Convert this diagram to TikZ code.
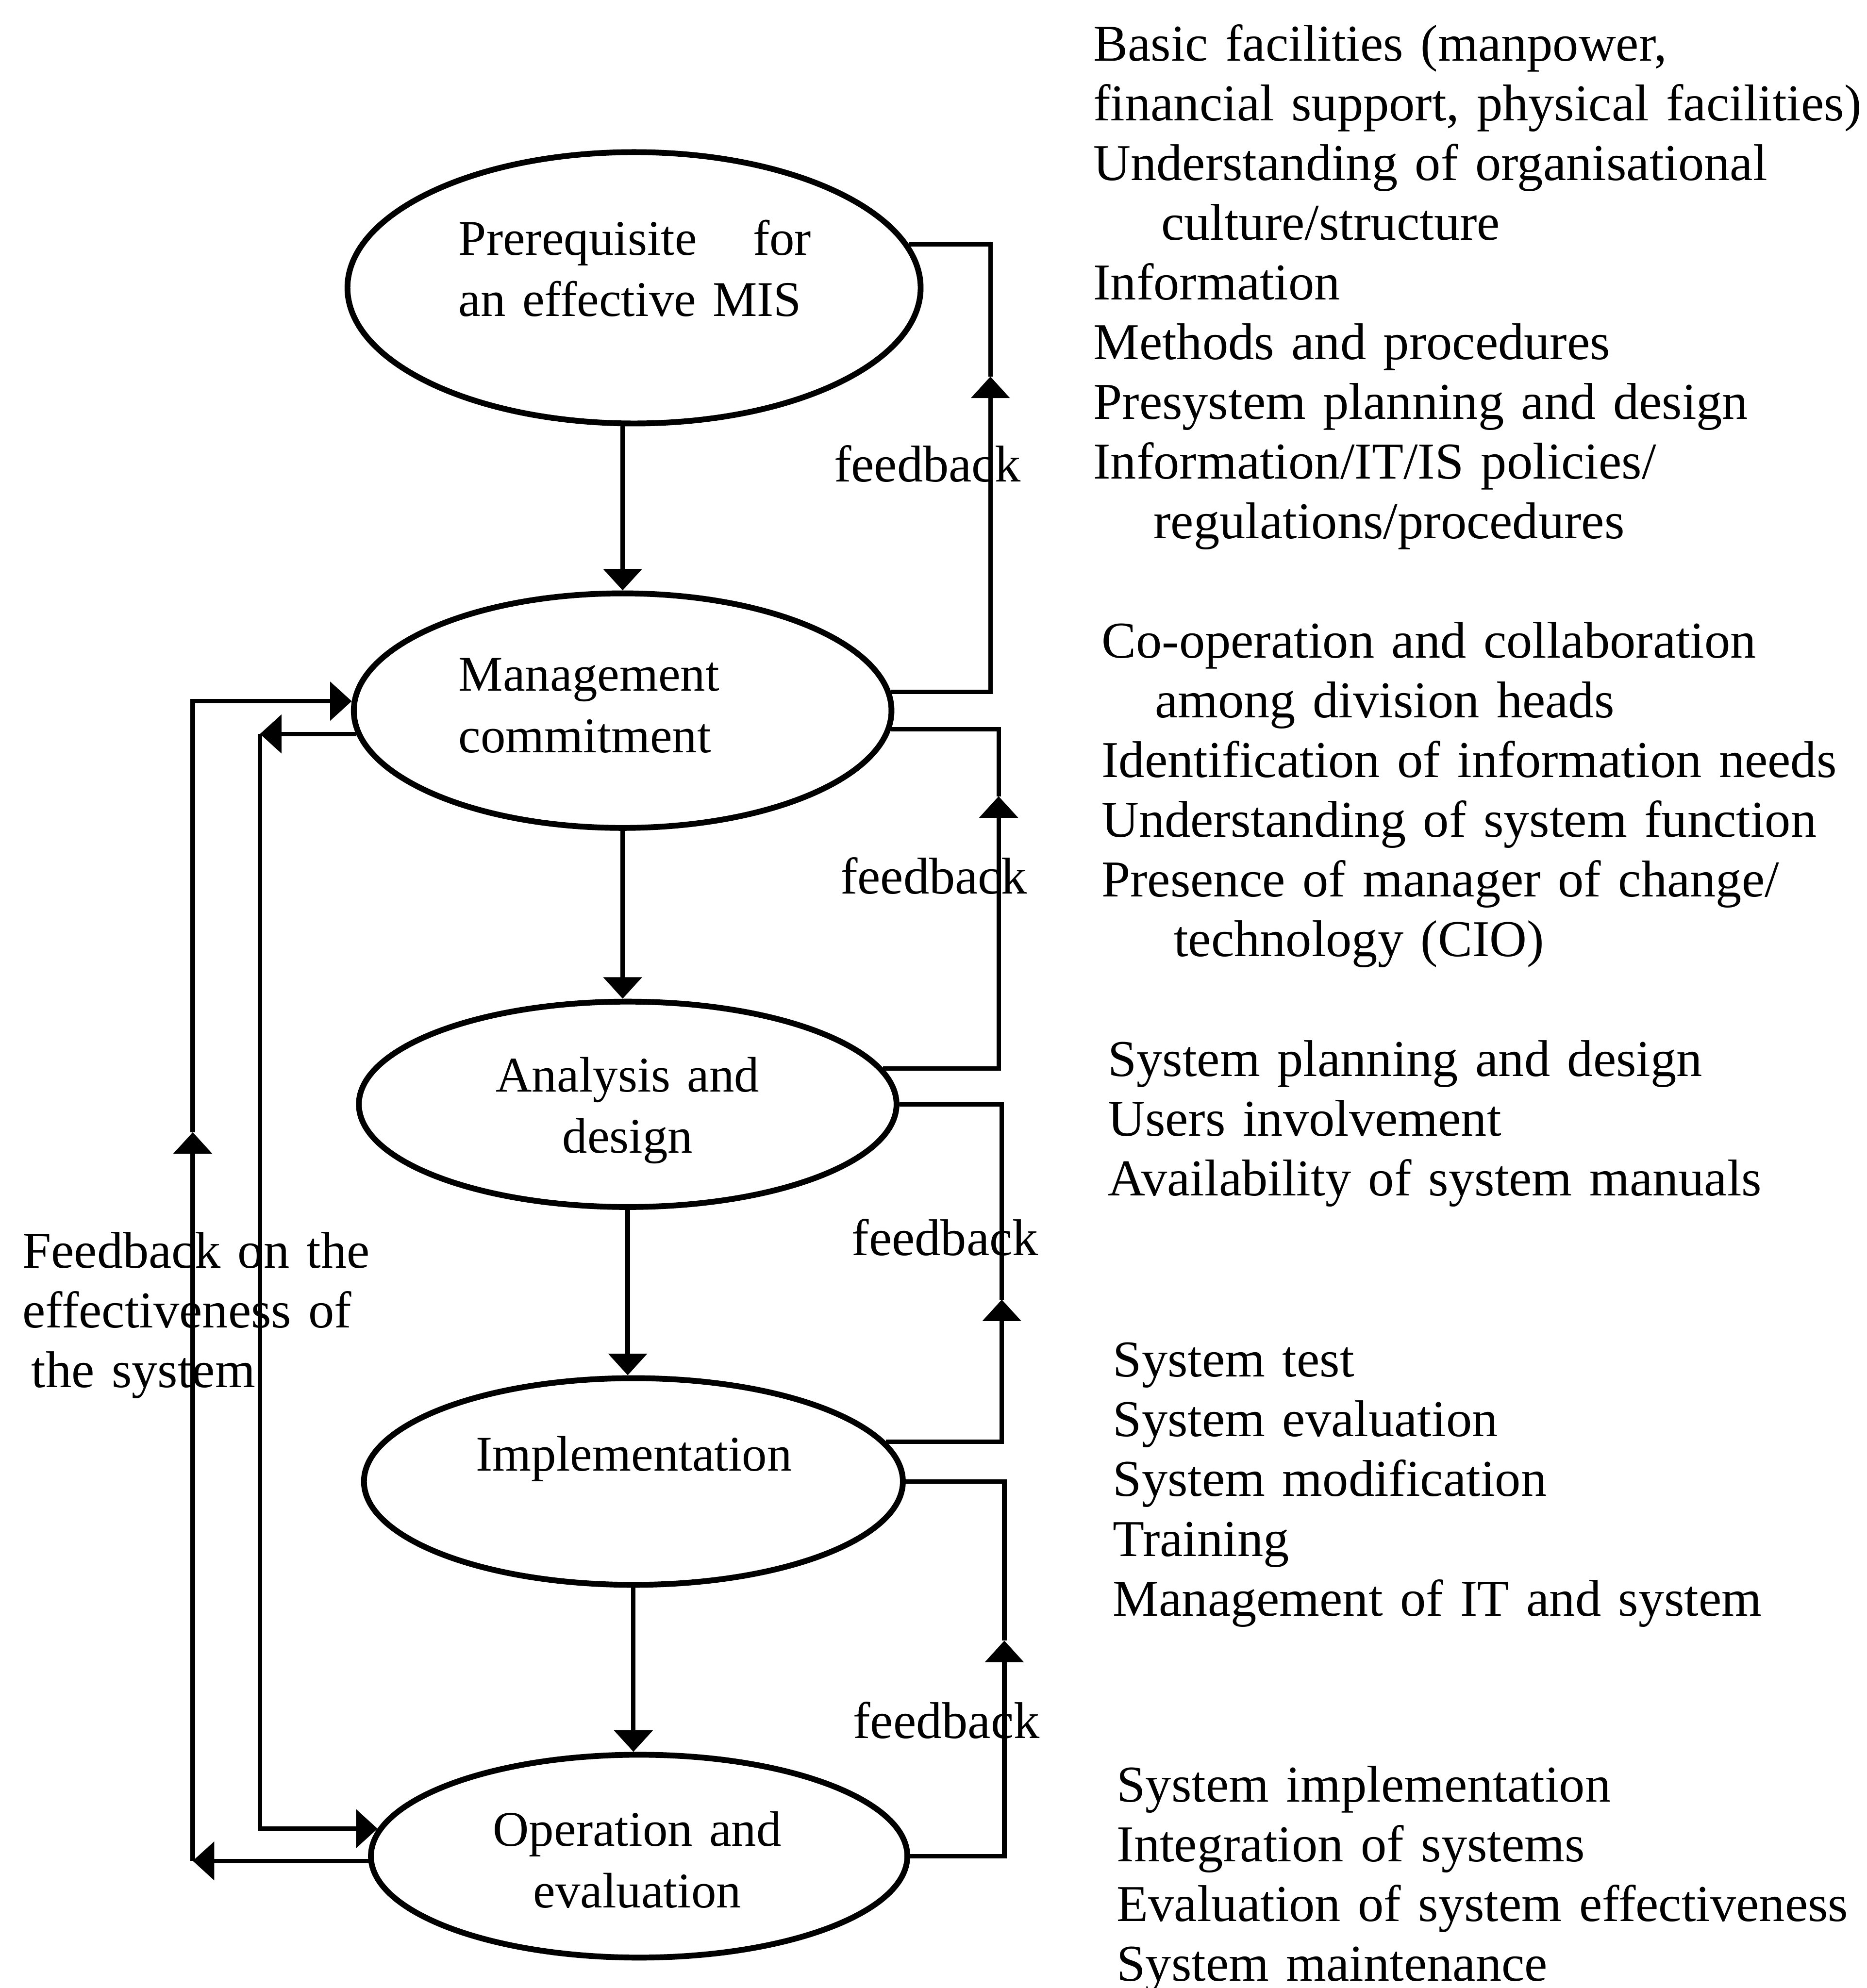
\documentclass[tikz,border=0pt]{standalone}
\usepackage{fontspec}
\setmainfont{Liberation Serif}
\usetikzlibrary{calc}
\usetikzlibrary{arrows.meta}
\usetikzlibrary{shapes.geometric}

\begin{document}
\begin{tikzpicture}[
  stage/.style={draw,ellipse,line width=1.3pt,inner sep=0pt},
  conn/.style={line width=1pt},
  arr/.style={conn,-{Triangle[length=1.7mm,width=3mm]}},
  txt/.style={inner sep=0pt,font=\fontsize{11.6}{13.4}\selectfont},
  lst/.style={txt,anchor=base west,text width=7.5cm,align=left},
  intxt/.style={txt,font=\fontsize{11.2}{13.8}\selectfont,anchor=base,text width=2.8cm,align=center}
]
\useasboundingbox (0,0) rectangle (14.72,-15.68);

% stages
\node[stage,minimum width=4.52cm,minimum height=2.14cm] (pre) at (5.00,-2.27) {};
\node[stage,minimum width=4.24cm,minimum height=1.85cm] (mgmt) at (4.91,-5.605) {};
\node[stage,minimum width=4.24cm,minimum height=1.62cm] (anl) at (4.95,-8.71) {};
\node[stage,minimum width=4.25cm,minimum height=1.63cm] (impl) at (4.995,-11.685) {};
\node[stage,minimum width=4.23cm,minimum height=1.60cm] (oper) at (5.04,-14.64) {};

\node[intxt,anchor=base west,text width=2.78cm,align=left] (pretxt) at (3.61,-2.01) {Prerequisite\hfill for\\an effective MIS};
\node[intxt,anchor=base west,text width=2.6cm,align=left] (mgmttxt) at (3.61,-5.45) {Management\\commitment};
\node[intxt] (anltxt) at (4.95,-8.61) {Analysis and\\design};
\node[intxt] (impltxt) at (5.00,-11.60) {Implementation};
\node[intxt] (opertxt) at (5.025,-14.56) {Operation and\\evaluation};

% downward flow
\draw[arr] (pre.south -| mgmt.north) -- (mgmt.north);
\draw[arr] (mgmt.south) -- (mgmt.south |- anl.north);
\draw[arr] (anl.south) -- (anl.south |- impl.north);
\draw[arr] (impl.south) -- (impl.south |- oper.north);

% feedback loops on the right
\coordinate (r1) at (7.81,-2.97);
\coordinate (r2) at (7.875,-6.28);
\coordinate (r3) at (7.90,-10.25);
\coordinate (r4) at (7.92,-12.94);
\draw[arr] (mgmt.4) -| (r1);
\draw[conn] (r1) |- (pre.9);
\draw[arr] (anl.8) -| (r2);
\draw[conn] (r2) |- (mgmt.-4);
\draw[arr] (impl.9) -| (r3);
\draw[conn] (r3) |- (anl.east);
\draw[arr] (oper.east) -| (r4);
\draw[conn] (r4) |- (impl.east);

\node[txt,anchor=base west] (fb1) at (6.57,-3.80) {feedback};
\node[txt,anchor=base west] (fb2) at (6.62,-7.05) {feedback};
\node[txt,anchor=base west] (fb3) at (6.71,-9.90) {feedback};
\node[txt,anchor=base west] (fb4) at (6.72,-13.71) {feedback};

% loops on the left
\coordinate (ol) at (1.52,0);
\coordinate (ot) at (1.52,-8.93);
\coordinate (il) at (2.05,0);
\draw[arr] (oper.181) -- (oper.181 -| ol);
\draw[arr] (oper.181 -| ol) -- (ot);
\draw[arr] (ot) |- (mgmt.178);
\draw[arr] (mgmt.185) -- (mgmt.185 -| il);
\draw[arr] (mgmt.185 -| il) |- (oper.174);

\node[lst,text width=3cm] (eff) at (0.17,-10.00) {Feedback on the\\effectiveness of\\\hspace*{0.07cm}the system};

% factors
\node[lst] (f1) at (8.615,-0.48) {Basic facilities (manpower,\\financial support, physical facilities)\\Understanding of organisational\\\hspace*{0.535cm}culture/structure\\Information\\Methods and procedures\\Presystem planning and design\\Information/IT/IS policies/\\\hspace*{0.475cm}regulations/procedures};
\node[lst] (f2) at (8.68,-5.19) {Co-operation and collaboration\\\hspace*{0.42cm}among division heads\\Identification of information needs\\Understanding of system function\\Presence of manager of change/\\\hspace*{0.57cm}technology (CIO)};
\node[lst] (f3) at (8.73,-8.49) {System planning and design\\Users involvement\\Availability of system manuals};
\node[lst] (f4) at (8.77,-10.86) {System test\\System evaluation\\System modification\\Training\\Management of IT and system};
\node[lst] (f5) at (8.80,-14.21) {System implementation\\Integration of systems\\Evaluation of system effectiveness\\System maintenance};
\end{tikzpicture}
\end{document}
